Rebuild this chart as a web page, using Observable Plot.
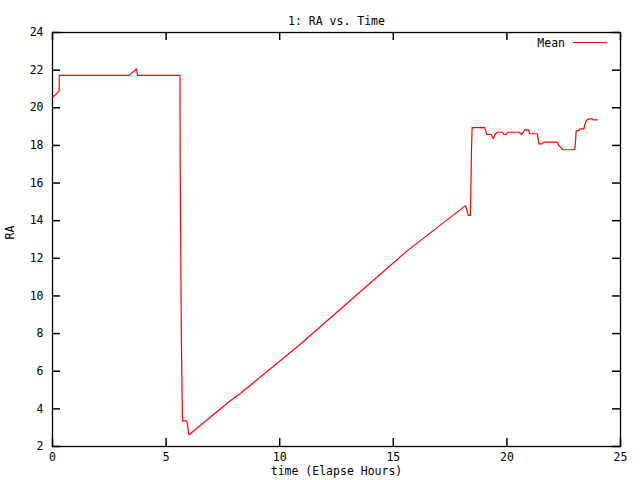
<!DOCTYPE html>
<html>
<head>
<meta charset="utf-8">
<script src="https://cdn.jsdelivr.net/npm/d3@7"></script>
<script src="https://cdn.jsdelivr.net/npm/@observablehq/plot@0.6"></script>
<style>
  html, body { margin: 0; padding: 0; background: #fff; }
  svg { display: block; }
</style>
</head>
<body>
<div id="chart"></div>
<script>
const title = "1: RA vs. Time";
const xLabel = "time (Elapse Hours)";
const yLabel = "RA";
const seriesName = "Mean";

const xTicks = [0, 5, 10, 15, 20, 25];
const yTicks = [2, 4, 6, 8, 10, 12, 14, 16, 18, 20, 22, 24];

const timeHours = [
  0.00, 0.29, 0.30, 3.37, 3.70, 3.74, 5.61, 5.62, 5.67, 5.72, 5.91, 6.01,
  7.84, 8.28, 10.92, 13.27, 15.62, 18.18, 18.30, 18.39, 18.41, 18.44, 18.47,
  19.03, 19.11, 19.31, 19.40, 19.47, 19.58, 19.80, 19.87, 19.97, 20.04,
  20.53, 20.65, 20.79, 20.94, 21.01, 21.34, 21.41, 21.56, 21.63, 22.22,
  22.29, 22.36, 22.46, 22.99, 23.02, 23.05, 23.17, 23.21, 23.39, 23.42,
  23.49, 23.61, 23.76, 23.80, 23.98
];
const raMean = [
  20.56, 20.87, 21.72, 21.72, 22.07, 21.72, 21.72, 17.20, 7.90, 3.36, 3.36, 2.62,
  4.44, 4.83, 7.45, 9.93, 12.41, 14.80, 14.28, 14.28, 15.39, 17.73, 18.94,
  18.94, 18.58, 18.58, 18.35, 18.58, 18.70, 18.70, 18.58, 18.58, 18.70,
  18.70, 18.58, 18.83, 18.83, 18.62, 18.62, 18.08, 18.08, 18.17, 18.17,
  18.00, 17.91, 17.77, 17.77, 18.23, 18.79, 18.79, 18.88, 18.88, 19.06,
  19.32, 19.41, 19.41, 19.36, 19.36
];

const data = timeHours.map((t, i) => ({time: t, ra: raMean[i]}));

const font = "'DejaVu Sans Mono', monospace";
const SVGNS = "http://www.w3.org/2000/svg";

const W = 640, H = 480, ML = 52, MR = 20, MT = 32, MB = 34;
const frameW = W - ML - MR, frameH = H - MT - MB, tickLen = 8;

const legendMark = (index, scales, values, dims) => {
  const g = document.createElementNS(SVGNS, "g");
  const x2 = dims.width - dims.marginRight - 13;
  const x1 = x2 - 34;
  const y = dims.marginTop + 10.5;
  const l = document.createElementNS(SVGNS, "line");
  l.setAttribute("x1", x1); l.setAttribute("x2", x2);
  l.setAttribute("y1", y); l.setAttribute("y2", y);
  l.setAttribute("stroke", "red"); l.setAttribute("stroke-width", 1.2);
  g.appendChild(l);
  const text = document.createElementNS(SVGNS, "text");
  text.setAttribute("x", x1 - 8); text.setAttribute("y", y);
  text.setAttribute("dy", "0.35em");
  text.setAttribute("text-anchor", "end");
  text.setAttribute("font-family", "DejaVu Sans Mono, monospace");
  text.setAttribute("font-size", "11.5");
  text.setAttribute("fill", "black");
  text.textContent = seriesName;
  g.appendChild(text);
  return g;
};

const tickStyle = {stroke: "black", strokeWidth: 1.5};

const chart = Plot.plot({
  width: W,
  height: H,
  marginLeft: ML,
  marginRight: MR,
  marginTop: MT,
  marginBottom: MB,
  style: {fontFamily: font, fontSize: "11.5px", background: "white", color: "black"},
  x: {domain: [0, 25], ticks: xTicks, label: null},
  y: {domain: [2, 24], ticks: yTicks, label: null},
  marks: [
    Plot.frame({stroke: "black", strokeWidth: 1.3}),
    Plot.axisX({anchor: "bottom", ticks: xTicks, tickSize: 0, tickPadding: 6, label: null, fontSize: 11.5}),
    Plot.axisY({anchor: "left", ticks: yTicks, tickSize: 0, tickPadding: 9, label: null, fontSize: 11.5}),
    // inward ticks on all four sides
    Plot.tickX(xTicks, {x: d => d, insetTop: frameH - tickLen, ...tickStyle}),
    Plot.tickX(xTicks, {x: d => d, insetBottom: frameH - tickLen, ...tickStyle}),
    Plot.tickY(yTicks, {y: d => d, insetRight: frameW - tickLen, ...tickStyle}),
    Plot.tickY(yTicks, {y: d => d, insetLeft: frameW - tickLen, ...tickStyle}),
    Plot.line(data, {x: "time", y: "ra", stroke: "red", strokeWidth: 1.2}),
    Plot.text([title], {frameAnchor: "top", dy: -16, fontSize: 11.5, fill: "black"}),
    Plot.text([xLabel], {frameAnchor: "bottom", dy: 28, fontSize: 11.5, fill: "black"}),
    Plot.text([yLabel], {frameAnchor: "left", dx: -42, rotate: -90, fontSize: 11.5, fill: "black"}),
    legendMark
  ]
});
document.getElementById("chart").appendChild(chart);
</script>
</body>
</html>
